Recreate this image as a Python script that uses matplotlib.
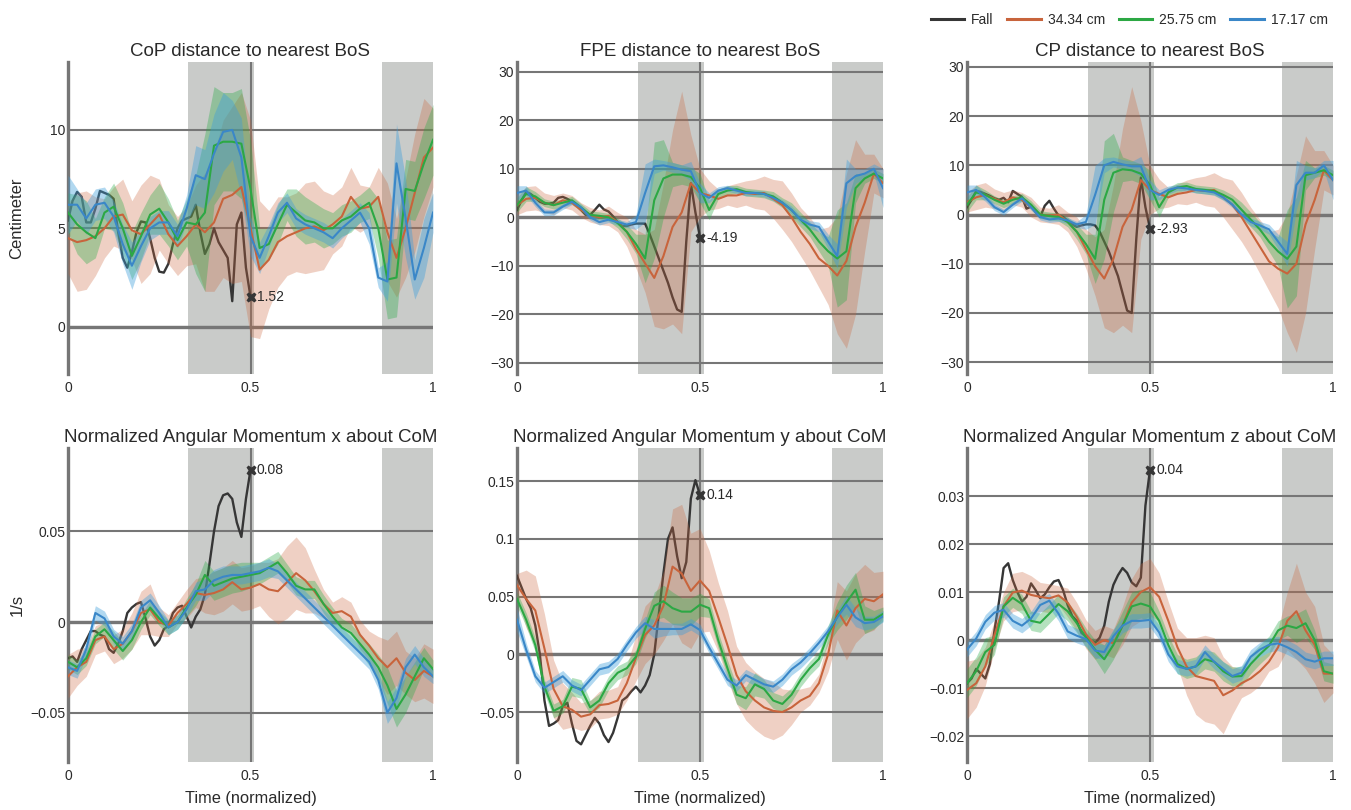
"""
Balance measures for a fall trial compared with three step-length
conditions. Mean curves with spread bands, normalized time axis.
"""

import matplotlib.pyplot as plt
from matplotlib.lines import Line2D
from matplotlib.ticker import FuncFormatter
import numpy as np


T = np.linspace(0, 1, 41)
FALL_T = np.linspace(0, 0.5, 41)

SERIES_NAMES = ['Fall', '34.34 cm', '25.75 cm', '17.17 cm']
LINE_COLORS = ['#363636', '#c8643c', '#2ca844', '#3a87c8']
BAND_COLORS = [None, (0.80, 0.40, 0.24, 0.30), (0.16, 0.67, 0.28, 0.35),
               (0.24, 0.62, 0.86, 0.40)]

SHADED_SPANS = [(0.33, 0.51), (0.86, 1.0)]

# CoP distance to nearest BoS (cm)
COP_FALL = [5.4, 6.4, 6.85, 6.6, 5.3, 5.3, 6.0, 6.9, 6.8, 6.7,
            6.5, 4.8, 3.5, 3.0, 3.8, 4.8, 5.35, 5.3, 4.5, 3.5,
            2.8, 2.75, 3.2, 4.2, 5.0, 5.4, 5.5, 5.6, 6.2, 4.8,
            3.7, 4.2, 5.0, 4.3, 3.9, 3.5, 1.3, 5.2, 5.8, 3.0, 1.52]
COP_34 = [4.5, 4.3, 4.4, 4.6, 5.0, 5.6, 5.7, 4.9, 4.7, 5.2,
          5.7, 4.7, 4.1, 4.6, 5.2, 4.8, 5.3, 6.5, 6.7, 7.1,
          5.0, 2.9, 3.4, 4.3, 4.6, 4.8, 5.0, 5.1, 4.9, 5.2,
          5.6, 6.6, 6.0, 6.1, 6.6, 4.8, 3.5, 5.0, 6.8, 8.6, 9.1]
COP_34_SD = [1.8, 2.5, 2.5, 2.0, 1.5, 1.5, 1.8, 1.5, 2.5, 2.5,
             1.8, 1.5, 1.5, 1.5, 2.0, 3.0, 3.5, 4.0, 4.5, 4.8,
             5.5, 3.5, 2.5, 2.3, 2.0, 2.0, 2.3, 2.3, 2.0, 1.5,
             1.5, 1.5, 1.2, 1.0, 1.5, 2.5, 2.0, 2.5, 3.0, 3.0, 2.0]
COP_25 = [5.8, 5.2, 4.8, 4.5, 5.8, 6.1, 5.0, 3.6, 4.6, 5.7,
          6.0, 5.3, 4.4, 5.3, 5.2, 5.8, 9.2, 9.4, 9.4, 9.3,
          7.0, 4.0, 4.2, 5.2, 6.2, 5.8, 5.4, 5.3, 5.0, 5.0,
          5.4, 5.6, 6.0, 6.3, 5.0, 2.4, 2.5, 7.0, 6.9, 8.3, 9.5]
COP_25_SD = [1.0, 1.5, 1.6, 1.0, 0.8, 1.2, 1.3, 1.2, 1.2, 1.0,
             1.3, 1.2, 1.0, 1.2, 2.5, 4.0, 3.0, 2.5, 2.5, 2.8,
             2.5, 1.0, 0.8, 1.0, 0.8, 1.2, 1.2, 1.0, 1.0, 0.8,
             0.8, 0.8, 0.7, 0.8, 1.5, 2.0, 2.0, 1.5, 1.5, 1.8, 1.8]
COP_17 = [6.2, 6.2, 5.5, 6.2, 6.3, 5.6, 4.2, 3.1, 4.1, 5.0,
          5.3, 5.3, 4.6, 6.0, 7.7, 7.5, 8.8, 9.9, 10.0, 8.6,
          4.6, 3.5, 4.6, 5.8, 6.3, 5.5, 5.2, 5.0, 4.8, 4.5,
          5.0, 5.4, 5.8, 5.0, 2.5, 2.3, 8.3, 5.5, 2.4, 4.0, 5.8]
COP_17_SD = [1.5, 0.8, 0.8, 0.8, 0.8, 0.8, 1.0, 1.2, 0.8, 0.6,
             0.6, 0.6, 0.6, 0.7, 1.5, 1.5, 2.0, 2.0, 1.5, 2.0,
             1.0, 0.8, 0.6, 0.5, 0.5, 0.5, 0.5, 0.5, 0.5, 0.5,
             0.5, 0.5, 0.5, 0.8, 0.5, 1.0, 2.0, 2.0, 1.0, 1.5, 1.0]

# FPE distance to nearest BoS (cm)
FPE_FALL = [1.5, 3.5, 5.2, 4.8, 4.0, 3.2, 2.8, 2.8, 3.0, 4.0,
            4.2, 3.8, 3.2, 2.5, 1.5, 0.5, 0.5, 1.5, 2.6, 1.6,
            1.2, 0.2, -1.0, -1.8, -1.8, -1.5, -1.3, -1.3, -1.3, -3.5,
            -6.0, -8.5, -11.0, -13.5, -16.5, -19.0, -19.5, -5.0, 7.0, 1.0,
            -4.19]
FPE_34 = [2.5, 3.8, 4.0, 3.0, 2.5, 3.5, 3.0, 1.5, 0.5, 0.0,
          0.3, -1.0, -3.0, -6.5, -9.5, -12.5, -8.0, -2.0, 1.0, 7.0,
          5.0, 4.5, 3.8, 4.5, 4.5, 5.0, 4.8, 5.0, 3.8, 2.5,
          0.0, -3.0, -5.5, -8.5, -10.0, -12.0, -9.0, -2.0, 3.0, 9.0, 7.0]
FPE_34_SD = [2.0, 2.5, 2.5, 2.0, 2.0, 1.5, 1.5, 1.5, 1.5, 1.5,
             2.0, 2.0, 3.0, 4.0, 6.0, 10.0, 15.0, 20.0, 25.0, 10.0,
             5.0, 3.0, 2.0, 2.0, 2.5, 2.5, 3.0, 3.5, 4.0, 5.0,
             5.0, 5.0, 5.5, 6.0, 8.0, 12.0, 18.0, 18.0, 10.0, 4.0, 3.0]
FPE_25 = [2.5, 4.8, 4.3, 3.0, 2.5, 3.0, 3.5, 2.0, 0.5, 0.3,
          0.0, -1.2, -3.0, -5.5, -8.5, 3.5, 8.0, 8.8, 8.8, 8.3,
          6.0, 1.5, 4.8, 5.5, 5.8, 5.2, 5.0, 4.8, 4.3, 3.0,
          1.5, -0.5, -2.5, -5.0, -7.0, -8.5, -7.0, 6.0, 8.0, 9.0, 8.0]
FPE_25_SD = [1.5, 1.5, 1.0, 0.8, 0.8, 0.8, 0.8, 0.8, 0.8, 0.8,
             0.8, 1.0, 1.5, 2.0, 5.0, 12.0, 8.0, 2.5, 2.0, 2.0,
             3.0, 2.0, 1.0, 1.0, 0.8, 0.8, 0.8, 0.8, 1.0, 1.0,
             1.5, 1.5, 1.5, 2.0, 3.0, 10.0, 10.0, 3.0, 1.0, 1.0, 1.0]
FPE_17 = [5.0, 5.5, 3.0, 1.0, 1.0, 2.2, 3.2, 2.0, 0.0, -1.0,
          -0.5, -1.0, -1.5, -1.0, 5.0, 10.5, 10.7, 10.3, 9.8, 9.5,
          5.0, 4.0, 5.5, 6.0, 5.5, 5.0, 5.0, 4.8, 4.0, 3.0,
          1.5, -0.5, -1.5, -2.0, -5.0, -8.0, 7.0, 8.5, 9.0, 10.0, 6.0]
FPE_17_SD = [1.5, 1.0, 0.8, 0.7, 0.6, 0.6, 0.6, 0.6, 0.6, 0.6,
             0.6, 0.6, 0.6, 1.5, 6.0, 1.5, 1.0, 1.0, 1.0, 2.0,
             2.0, 1.0, 0.8, 0.6, 0.6, 0.6, 0.6, 0.6, 0.6, 0.6,
             0.8, 0.8, 0.8, 1.0, 1.5, 2.5, 5.0, 1.5, 1.0, 1.0, 4.0]

# CP distance to nearest BoS (cm)
CP_FALL = [1.5, 3.0, 4.8, 4.6, 4.2, 3.8, 3.3, 3.0, 3.4, 2.5,
           4.8, 4.2, 3.6, 1.2, 1.6, 0.5, -0.5, 1.8, 2.8, 1.2,
           -0.2, -0.5, -1.2, -2.0, -2.5, -2.2, -2.0, -2.0, -2.2, -3.5,
           -5.5, -7.5, -10.0, -12.5, -16.0, -19.5, -20.0, -5.0, 7.5, 1.5,
           -2.93]
CP_34 = [2.5, 3.5, 4.0, 3.2, 2.5, 3.5, 3.0, 1.5, 0.0, -0.2,
         0.0, -1.5, -3.5, -7.0, -10.5, -13.0, -9.0, -2.5, 1.0, 7.0,
         5.0, 4.2, 3.5, 4.2, 4.5, 5.0, 4.8, 5.0, 3.5, 2.0,
         -0.5, -3.5, -6.5, -9.5, -11.0, -12.0, -10.0, -2.0, 3.0, 9.0, 7.0]
CP_34_SD = [2.0, 2.5, 2.5, 2.0, 2.0, 1.5, 1.5, 2.0, 1.5, 1.5,
            2.0, 2.0, 3.0, 4.0, 6.0, 10.0, 15.0, 20.0, 25.0, 12.0,
            5.0, 3.0, 2.0, 2.0, 2.5, 2.5, 3.0, 3.5, 4.0, 5.0,
            5.0, 5.0, 5.5, 6.0, 8.0, 12.0, 18.0, 18.0, 10.0, 4.0, 3.0]
CP_25 = [2.0, 4.5, 4.0, 3.0, 2.2, 3.0, 3.5, 2.0, 0.0, -0.3,
         -0.5, -1.5, -3.5, -6.0, -9.0, 3.0, 8.5, 9.2, 9.0, 8.3,
         6.0, 1.5, 4.5, 5.5, 5.8, 5.2, 5.0, 4.8, 4.0, 3.0,
         1.0, -1.0, -3.0, -5.5, -7.5, -9.0, -6.5, 8.0, 8.5, 9.0, 8.0]
CP_25_SD = [1.5, 1.5, 1.0, 0.8, 0.8, 0.8, 0.8, 0.8, 0.8, 0.8,
            0.8, 1.0, 1.5, 2.0, 5.0, 12.0, 8.0, 2.5, 2.0, 2.0,
            3.0, 2.0, 1.0, 1.0, 0.8, 0.8, 0.8, 0.8, 1.0, 1.0,
            1.5, 1.5, 1.5, 2.0, 3.0, 10.0, 10.0, 3.0, 1.0, 1.0, 1.0]
CP_17 = [4.5, 5.0, 3.5, 1.5, 0.5, 2.0, 3.3, 1.5, -0.5, -1.0,
         -0.8, -1.2, -2.0, -1.5, 4.0, 10.0, 10.7, 10.2, 9.8, 9.8,
         5.0, 4.0, 5.0, 5.5, 5.3, 5.0, 4.8, 4.5, 3.5, 2.0,
         0.0, -1.5, -2.2, -3.0, -5.5, -8.0, 6.0, 8.5, 8.5, 10.0, 7.0]
CP_17_SD = [1.5, 1.0, 0.8, 0.7, 0.6, 0.6, 0.6, 0.6, 0.6, 0.6,
            0.6, 0.6, 0.6, 1.5, 6.0, 1.5, 1.0, 1.0, 1.0, 2.0,
            2.0, 1.0, 0.8, 0.6, 0.6, 0.6, 0.6, 0.6, 0.6, 0.6,
            0.8, 0.8, 0.8, 1.0, 1.5, 2.5, 5.0, 1.5, 1.0, 1.0, 4.0]

# Normalized angular momentum x about CoM (1/s)
AMX_FALL = [-0.020, -0.019, -0.022, -0.015, -0.010, -0.005, -0.005, -0.007,
            -0.008, -0.015, -0.017, -0.012, -0.005, 0.005, 0.008, 0.010,
            0.011, 0.002, -0.008, -0.013, -0.010, -0.004, -0.002, 0.005,
            0.008, 0.009, 0.003, -0.003, 0.003, 0.007, 0.015, 0.032,
            0.050, 0.064, 0.070, 0.071, 0.068, 0.055, 0.047, 0.068, 0.084]
AMX_34 = [-0.030, -0.025, -0.022, -0.010, -0.008, -0.015, -0.012, -0.005,
          0.005, 0.007, 0.000, -0.002, 0.005, 0.010, 0.016, 0.015,
          0.016, 0.018, 0.022, 0.018, 0.019, 0.021, 0.018, 0.017,
          0.022, 0.027, 0.023, 0.017, 0.010, 0.005, 0.006, 0.003,
          -0.007, -0.013, -0.020, -0.025, -0.020, -0.028, -0.032, -0.027,
          -0.030]
AMX_34_SD = [0.012, 0.010, 0.008, 0.008, 0.008, 0.008, 0.008, 0.010,
             0.012, 0.014, 0.008, 0.006, 0.006, 0.008, 0.008, 0.010,
             0.012, 0.012, 0.012, 0.012, 0.012, 0.012, 0.015, 0.018,
             0.020, 0.020, 0.018, 0.012, 0.008, 0.006, 0.008, 0.008,
             0.008, 0.008, 0.012, 0.015, 0.015, 0.012, 0.012, 0.015, 0.015]
AMX_25 = [-0.022, -0.025, -0.020, -0.008, -0.004, -0.010, -0.016, -0.010,
          0.000, 0.008, 0.002, -0.003, 0.000, 0.008, 0.015, 0.026,
          0.020, 0.022, 0.024, 0.025, 0.026, 0.027, 0.030, 0.033,
          0.027, 0.020, 0.018, 0.018, 0.010, 0.003, -0.003, -0.006,
          -0.012, -0.018, -0.025, -0.035, -0.048, -0.040, -0.030, -0.020,
          -0.026]
AMX_25_SD = [0.004, 0.004, 0.004, 0.004, 0.004, 0.005, 0.005, 0.005,
             0.004, 0.004, 0.004, 0.004, 0.004, 0.005, 0.006, 0.008,
             0.008, 0.008, 0.008, 0.008, 0.007, 0.006, 0.006, 0.006,
             0.005, 0.005, 0.005, 0.005, 0.005, 0.005, 0.005, 0.005,
             0.005, 0.006, 0.007, 0.010, 0.010, 0.010, 0.008, 0.006, 0.005]
AMX_17 = [-0.025, -0.027, -0.015, 0.005, 0.002, -0.008, -0.012, -0.005,
          0.008, 0.012, 0.005, -0.003, 0.000, 0.007, 0.017, 0.018,
          0.023, 0.025, 0.026, 0.026, 0.027, 0.028, 0.030, 0.028,
          0.023, 0.018, 0.013, 0.008, 0.003, -0.002, -0.007, -0.012,
          -0.017, -0.022, -0.032, -0.050, -0.042, -0.025, -0.018, -0.025,
          -0.030]
AMX_17_SD = [0.004, 0.004, 0.004, 0.004, 0.004, 0.004, 0.004, 0.004,
             0.004, 0.004, 0.004, 0.004, 0.004, 0.004, 0.005, 0.006,
             0.006, 0.006, 0.005, 0.005, 0.005, 0.005, 0.005, 0.004,
             0.004, 0.004, 0.004, 0.004, 0.004, 0.004, 0.004, 0.004,
             0.004, 0.004, 0.005, 0.006, 0.006, 0.005, 0.005, 0.005, 0.004]

# Normalized angular momentum y about CoM (1/s)
AMY_FALL = [0.068, 0.058, 0.048, 0.040, 0.025, 0.000, -0.040, -0.062,
            -0.060, -0.057, -0.045, -0.042, -0.060, -0.075, -0.078, -0.070,
            -0.062, -0.055, -0.060, -0.070, -0.076, -0.068, -0.055, -0.040,
            -0.037, -0.032, -0.028, -0.033, -0.027, -0.018, 0.000, 0.035,
            0.070, 0.100, 0.110, 0.085, 0.066, 0.080, 0.135, 0.151, 0.138]
AMY_34 = [0.060, 0.048, 0.038, 0.005, -0.030, -0.045, -0.048, -0.054,
          -0.052, -0.044, -0.043, -0.040, -0.025, -0.003, 0.017, 0.025,
          0.042, 0.076, 0.070, 0.055, 0.064, 0.055, 0.032, 0.008,
          -0.018, -0.032, -0.040, -0.046, -0.049, -0.050, -0.046, -0.040,
          -0.036, -0.025, 0.000, 0.038, 0.025, 0.040, 0.048, 0.046, 0.052]
AMY_34_SD = [0.010, 0.025, 0.030, 0.030, 0.025, 0.020, 0.015, 0.012,
             0.012, 0.012, 0.012, 0.012, 0.015, 0.020, 0.025, 0.025,
             0.030, 0.050, 0.060, 0.050, 0.045, 0.035, 0.030, 0.030,
             0.025, 0.025, 0.025, 0.025, 0.025, 0.020, 0.015, 0.010,
             0.008, 0.008, 0.015, 0.025, 0.030, 0.030, 0.030, 0.025, 0.020]
AMY_25 = [0.048, 0.030, 0.008, -0.028, -0.049, -0.045, -0.028, -0.030,
          -0.046, -0.040, -0.025, -0.016, -0.012, -0.002, 0.022, 0.042,
          0.046, 0.040, 0.037, 0.037, 0.043, 0.040, 0.012, -0.012,
          -0.035, -0.038, -0.026, -0.030, -0.040, -0.043, -0.035, -0.022,
          -0.012, -0.004, 0.017, 0.033, 0.045, 0.056, 0.030, 0.030, 0.035]
AMY_25_SD = [0.006, 0.006, 0.006, 0.006, 0.006, 0.006, 0.008, 0.008,
             0.006, 0.006, 0.006, 0.006, 0.006, 0.006, 0.008, 0.012,
             0.014, 0.014, 0.012, 0.012, 0.010, 0.008, 0.007, 0.007,
             0.008, 0.010, 0.010, 0.008, 0.007, 0.007, 0.006, 0.006,
             0.006, 0.006, 0.008, 0.012, 0.015, 0.015, 0.012, 0.008, 0.006]
AMY_17 = [0.030, 0.004, -0.019, -0.029, -0.024, -0.019, -0.027, -0.031,
          -0.022, -0.013, -0.011, -0.004, 0.008, 0.019, 0.027, 0.022,
          0.022, 0.022, 0.022, 0.026, 0.021, 0.006, -0.008, -0.022,
          -0.027, -0.018, -0.022, -0.026, -0.028, -0.022, -0.013, -0.007,
          0.001, 0.010, 0.020, 0.032, 0.043, 0.032, 0.027, 0.028, 0.033]
AMY_17_SD = [0.010, 0.006, 0.005, 0.005, 0.005, 0.005, 0.005, 0.005,
             0.005, 0.005, 0.005, 0.005, 0.005, 0.005, 0.006, 0.008,
             0.006, 0.005, 0.005, 0.005, 0.005, 0.005, 0.005, 0.005,
             0.005, 0.005, 0.005, 0.005, 0.005, 0.005, 0.005, 0.005,
             0.005, 0.005, 0.005, 0.006, 0.008, 0.008, 0.006, 0.005, 0.005]

# Normalized angular momentum z about CoM (1/s)
AMZ_FALL = [-0.009, -0.008, -0.006, -0.007, -0.008, -0.005, 0.002, 0.008,
            0.015, 0.016, 0.0125, 0.010, 0.008, 0.009, 0.0118, 0.0104,
            0.0087, 0.0095, 0.011, 0.0122, 0.0125, 0.0104, 0.0073, 0.005,
            0.004, 0.0015, 0.0007, 0.0, -0.0006, 0.0005, 0.003, 0.008,
            0.0115, 0.0135, 0.015, 0.014, 0.012, 0.0112, 0.013, 0.028,
            0.0355]
AMZ_34 = [-0.0104, -0.009, -0.0055, 0.001, 0.007, 0.0099, 0.0103, 0.0094,
          0.009, 0.0087, 0.0093, 0.0078, 0.0048, 0.0012, -0.001, 0.0,
          -0.0007, 0.003, 0.0078, 0.010, 0.011, 0.009, 0.004, -0.0015,
          -0.0055, -0.0075, -0.008, -0.0085, -0.0115, -0.0105, -0.009, -0.008,
          -0.0065, -0.0045, -0.0015, 0.004, 0.006, 0.002, -0.001, -0.007,
          -0.007]
AMZ_34_SD = [0.006, 0.005, 0.004, 0.003, 0.003, 0.004, 0.004, 0.004,
             0.003, 0.003, 0.002, 0.003, 0.003, 0.003, 0.003, 0.003,
             0.003, 0.004, 0.005, 0.006, 0.006, 0.005, 0.004, 0.004,
             0.006, 0.008, 0.009, 0.009, 0.008, 0.005, 0.003, 0.003,
             0.003, 0.002, 0.004, 0.006, 0.010, 0.008, 0.008, 0.006, 0.004]
AMZ_25 = [-0.009, -0.0065, -0.0025, -0.001, 0.007, 0.0088, 0.0075, 0.004,
          0.0036, 0.0055, 0.0075, 0.006, 0.0035, 0.0005, -0.002, -0.004,
          -0.001, 0.003, 0.007, 0.0076, 0.007, 0.004, -0.001, -0.005,
          -0.006, -0.0055, -0.004, -0.0045, -0.0065, -0.0076, -0.0075, -0.005,
          -0.003, -0.0012, 0.002, 0.003, 0.0025, 0.0035, 0.000, -0.0065,
          -0.007]
AMZ_25_SD = [0.003, 0.003, 0.003, 0.002, 0.002, 0.002, 0.002, 0.002,
             0.002, 0.002, 0.002, 0.002, 0.002, 0.002, 0.002, 0.003,
             0.003, 0.003, 0.003, 0.003, 0.003, 0.002, 0.002, 0.002,
             0.002, 0.002, 0.002, 0.002, 0.002, 0.002, 0.002, 0.002,
             0.002, 0.002, 0.002, 0.002, 0.003, 0.003, 0.002, 0.002, 0.002]
AMZ_17 = [-0.002, 0.0003, 0.0038, 0.0057, 0.0063, 0.004, 0.003, 0.0045,
          0.0073, 0.0082, 0.0055, 0.0018, 0.0009, 0.0002, -0.0022, -0.0025,
          0.0008, 0.003, 0.004, 0.004, 0.0042, 0.0016, -0.003, -0.0055,
          -0.006, -0.0055, -0.0025, -0.0045, -0.006, -0.0075, -0.0068, -0.0035,
          -0.002, -0.001, -0.0007, -0.0015, -0.0025, -0.004, -0.0045, -0.0038,
          -0.0038]
AMZ_17_SD = [0.0015, 0.0015, 0.0015, 0.0015, 0.0015, 0.0015, 0.0015, 0.0015,
             0.0015, 0.0015, 0.0015, 0.0015, 0.0015, 0.0015, 0.0015, 0.0015,
             0.0015, 0.0015, 0.0015, 0.0015, 0.0015, 0.0015, 0.0015, 0.0015,
             0.0015, 0.0015, 0.0015, 0.0015, 0.0015, 0.0015, 0.0015, 0.0015,
             0.0015, 0.0015, 0.0015, 0.0015, 0.0015, 0.0015, 0.0015, 0.0015,
             0.0015]

TITLES = [
    'CoP distance to nearest BoS',
    'FPE distance to nearest BoS',
    'CP distance to nearest BoS',
    'Normalized Angular Momentum x about CoM',
    'Normalized Angular Momentum y about CoM',
    'Normalized Angular Momentum z about CoM',
]

Y_LIMITS = [(-2.4, 13.45), (-32.3, 32.0), (-32.4, 31.0),
            (-0.0773, 0.0961), (-0.0933, 0.1788), (-0.0254, 0.0400)]
Y_TICKS = [[0, 5, 10], [-30, -20, -10, 0, 10, 20, 30],
           [-30, -20, -10, 0, 10, 20, 30], [-0.05, 0, 0.05],
           [-0.05, 0, 0.05, 0.1, 0.15], [-0.02, -0.01, 0, 0.01, 0.02, 0.03]]
X_TICKS = [0, 0.5, 1]

PANEL_DATA = [
    (COP_FALL, [(COP_34, COP_34_SD), (COP_25, COP_25_SD), (COP_17, COP_17_SD)]),
    (FPE_FALL, [(FPE_34, FPE_34_SD), (FPE_25, FPE_25_SD), (FPE_17, FPE_17_SD)]),
    (CP_FALL, [(CP_34, CP_34_SD), (CP_25, CP_25_SD), (CP_17, CP_17_SD)]),
    (AMX_FALL, [(AMX_34, AMX_34_SD), (AMX_25, AMX_25_SD), (AMX_17, AMX_17_SD)]),
    (AMY_FALL, [(AMY_34, AMY_34_SD), (AMY_25, AMY_25_SD), (AMY_17, AMY_17_SD)]),
    (AMZ_FALL, [(AMZ_34, AMZ_34_SD), (AMZ_25, AMZ_25_SD), (AMZ_17, AMZ_17_SD)]),
]

GRID_COLOR = '#767676'
TEXT_COLOR = '#2a2a2a'
SHADE_COLOR = '#c9cbc9'

# axes rectangles in pixels: left, top, width, height
FIG_W, FIG_H = 1351, 810
AXES_PX = [(68, 62, 365, 312), (517, 62, 366, 312), (967, 62, 366, 312),
           (68, 448, 365, 314), (517, 448, 366, 314), (967, 448, 366, 314)]


def main():
    plt.rcParams['font.family'] = ['Liberation Sans', 'DejaVu Sans']
    fig = plt.figure(figsize=(FIG_W / 100, FIG_H / 100), dpi=100)

    for i, (left, top, width, height) in enumerate(AXES_PX):
        rect = [left / FIG_W, 1 - (top + height) / FIG_H,
                width / FIG_W, height / FIG_H]
        ax = fig.add_axes(rect)
        fall, groups = PANEL_DATA[i]
        draw_panel(ax, i, fall, groups)
        if i >= 3:
            ax.set_xlabel('Time (normalized)', fontsize=11.8,
                          color=TEXT_COLOR, labelpad=6)

    fig.text(17 / FIG_W, 1 - 218 / FIG_H, 'Centimeter', rotation=90,
             ha='center', va='center', fontsize=12, color=TEXT_COLOR)
    fig.text(17 / FIG_W, 1 - 605 / FIG_H, '1/s', rotation=90,
             ha='center', va='center', fontsize=12, color=TEXT_COLOR)

    handles = [Line2D([], [], color=c, lw=2.2) for c in LINE_COLORS]
    fig.legend(handles, SERIES_NAMES, loc='upper right',
               bbox_to_anchor=(1340 / FIG_W, 1.0), ncol=4, frameon=False,
               fontsize=10, handlelength=2.4, handletextpad=0.5,
               columnspacing=1.0, labelcolor=TEXT_COLOR)

    fig.savefig('out.png', dpi=100)


def draw_panel(ax, index, fall, groups):

    for start, end in SHADED_SPANS:
        ax.axvspan(start, end, color=SHADE_COLOR, lw=0, zorder=0.2)

    ax.set_axisbelow(True)
    ax.yaxis.grid(True, color=GRID_COLOR, lw=1.5)
    ax.axhline(0, color=GRID_COLOR, lw=2.4, zorder=0.6)
    ax.axvline(0.5, color=GRID_COLOR, lw=1.5, zorder=0.6)

    ax.plot(FALL_T, fall, color=LINE_COLORS[0], lw=1.7, zorder=2)

    for k, (mean, spread) in enumerate(groups, start=1):
        mean = np.array(mean)
        spread = np.array(spread)
        ax.fill_between(T, mean - spread, mean + spread,
                        color=BAND_COLORS[k], lw=0, zorder=2)
        ax.plot(T, mean, color=LINE_COLORS[k], lw=1.5, zorder=3)

    last = fall[-1]
    ax.plot(FALL_T[-1], last, marker='X', ms=7.5, color=LINE_COLORS[0],
            mec='none', zorder=5)
    ax.annotate(f'{last:.2f}', (FALL_T[-1], last), xytext=(4.5, 0),
                textcoords='offset points', va='center', fontsize=10,
                color=TEXT_COLOR, zorder=6)

    ax.set_xlim(0, 1)
    ax.set_ylim(*Y_LIMITS[index])
    ax.set_xticks(X_TICKS)
    ax.set_yticks(Y_TICKS[index])
    ax.xaxis.set_major_formatter(FuncFormatter(format_tick))
    ax.yaxis.set_major_formatter(FuncFormatter(format_tick))
    ax.tick_params(length=0, labelsize=10, labelcolor=TEXT_COLOR)
    ax.tick_params(axis='y', pad=2)
    ax.tick_params(axis='x', pad=5)

    for side in ('top', 'right', 'bottom'):
        ax.spines[side].set_visible(False)
    ax.spines['left'].set_color(GRID_COLOR)
    ax.spines['left'].set_linewidth(2.4)
    ax.spines['left'].set_zorder(0.7)

    ax.set_title(TITLES[index], fontsize=13.5, color=TEXT_COLOR, pad=4)
    ax.patch.set_alpha(0)


def format_tick(value, pos):
    text = f'{value:g}'
    return text.replace('-', '\u2212')


if __name__ == '__main__':
    main()
